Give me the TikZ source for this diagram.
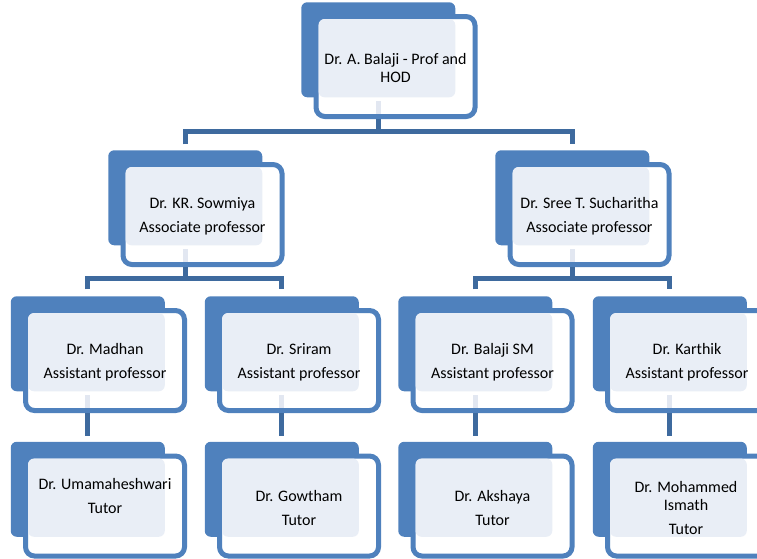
\documentclass[tikz,border=0pt]{standalone}
\usepackage{fontspec}
\setmainfont{Carlito}
\definecolor{bblue}{RGB}{79,129,189}
\definecolor{cblue}{RGB}{62,106,158}
\definecolor{lightfill}{RGB}{233,238,246}
\definecolor{faintline}{RGB}{226,231,241}
\tikzset{
  backbox/.style={fill=bblue, rounded corners=6pt, minimum width=154pt, minimum height=95pt, inner sep=0pt, outer sep=0pt},
  framebox/.style={draw=bblue, line width=5pt, fill=white, rounded corners=9pt, minimum width=159pt, minimum height=100pt, inner sep=0pt},
  lightbox/.style={fill=lightfill, rounded corners=6pt},
  conn/.style={draw=cblue, line width=5pt},
  faint/.style={draw=faintline, line width=5pt},
  lbl/.style={align=center, text=black, font=\fontsize{16}{18}\selectfont, inner sep=0pt}
}
\newcommand{\orgbox}[3]{% name, cx, cy
  \node[backbox] (b#1) at (#2-17.25, #3-16.75) {};
  \node[framebox] (f#1) at (#2, #3) {};
  \fill[lightbox] ([shift={(5pt,-5pt)}]f#1.north west) rectangle (b#1.south east);
}
\newcommand{\faintdrop}[1]{%
  \draw[faint, shorten >=5pt] ([yshift=-4pt]b#1.south) -- (b#1.south |- f#1.south);
}
\begin{document}
\begin{tikzpicture}[x=1pt,y=-1pt]
\useasboundingbox (0,0) rectangle (757,558);
\clip (0,0) rectangle (757,558);
\coordinate (ya) at (0,131);
\coordinate (yb) at (0,278);

% level 1
\orgbox{1}{395.5}{66.5}
\faintdrop{1}
\node[lbl] (t1) at (395.5,67.5) {Dr. A. Balaji - Prof and\\HOD};
% level 2
\orgbox{2}{202.5}{214.5}
\faintdrop{2}
\node[lbl] (t2) at (202.5,216) {Dr. KR. Sowmiya\\[6pt]Associate professor};
\orgbox{3}{589.5}{214.5}
\faintdrop{3}
\node[lbl] (t3) at (589.5,216) {Dr. Sree T. Sucharitha\\[6pt]Associate professor};
% level 3
\orgbox{4}{105}{360.5}
\faintdrop{4}
\node[lbl] (t4) at (105,362) {Dr. Madhan\\[6pt]Assistant professor};
\orgbox{5}{299}{360.5}
\faintdrop{5}
\node[lbl] (t5) at (299,362) {Dr. Sriram\\[6pt]Assistant professor};
\orgbox{6}{492.5}{360.5}
\faintdrop{6}
\node[lbl] (t6) at (492.5,362) {Dr. Balaji SM\\[6pt]Assistant professor};
\orgbox{7}{687}{360.5}
\faintdrop{7}
\node[lbl] (t7) at (687,362) {Dr. Karthik\\[6pt]Assistant professor};
% level 4
\orgbox{8}{105}{506}
\node[lbl] (t8) at (105,496) {Dr. Umamaheshwari\\[6pt]Tutor};
\orgbox{9}{299}{506}
\node[lbl] (t9) at (299,508) {Dr. Gowtham\\[6pt]Tutor};
\orgbox{10}{492.5}{506}
\node[lbl] (t10) at (492.5,508) {Dr. Akshaya\\[6pt]Tutor};
\orgbox{11}{687}{506}
\node[lbl] (t11) at (686,508) {Dr. Mohammed\\Ismath\\[6pt]Tutor};

% connectors level 1 -> 2
\draw[conn] (b1.south |- f1.south) -- (b1.south |- ya);
\draw[conn, shorten <=6pt, shorten >=6pt] (b2.north) |- (b1.south |- ya) -| (b3.north);
% level 2 -> 3
\draw[conn] (b2.south |- f2.south) -- (b2.south |- yb);
\draw[conn, shorten <=7pt, shorten >=7pt] (b4.north) |- (b2.south |- yb) -| (b5.north);
\draw[conn] (b3.south |- f3.south) -- (b3.south |- yb);
\draw[conn, shorten <=7pt, shorten >=7pt] (b6.north) |- (b3.south |- yb) -| (b7.north);
% level 3 -> 4
\draw[conn, shorten >=6pt] (b4.south |- f4.south) -- (b8.north);
\draw[conn, shorten >=6pt] (b5.south |- f5.south) -- (b9.north);
\draw[conn, shorten >=6pt] (b6.south |- f6.south) -- (b10.north);
\draw[conn, shorten >=6pt] (b7.south |- f7.south) -- (b11.north);
\end{tikzpicture}
\end{document}
